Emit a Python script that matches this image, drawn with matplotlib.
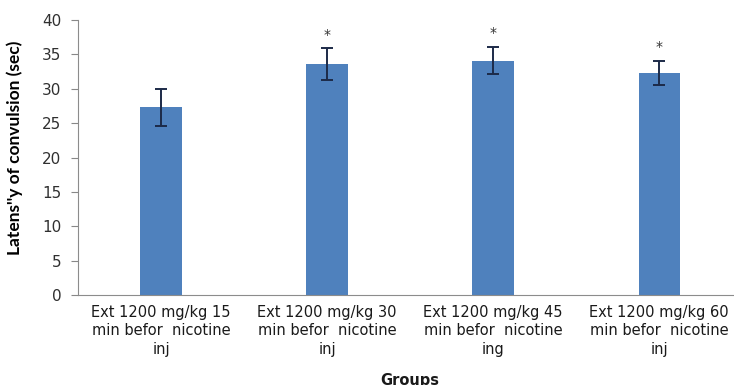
import matplotlib.pyplot as plt
import numpy as np

# latency of convulsion per group (mean +/- error)
groups = ["Ext 1200 mg/kg 15\nmin befor  nicotine\ninj",
          "Ext 1200 mg/kg 30\nmin befor  nicotine\ninj",
          "Ext 1200 mg/kg 45\nmin befor  nicotine\ning",
          "Ext 1200 mg/kg 60\nmin befor  nicotine\ninj"]
latency = [27.3, 33.6, 34.1, 32.3]
err = [2.7, 2.3, 2.0, 1.8]
signif = ["", "*", "*", "*"]
yticks = [0, 5, 10, 15, 20, 25, 30, 35, 40]

plt.rcParams['font.family'] = ['DejaVu Sans']

fig = plt.figure(figsize=(7.34, 3.85), dpi=100)
ax = fig.add_axes([0.1063, 0.2338, 0.905, 0.714])

x = np.arange(len(groups))
ax.bar(x, latency, width=0.25, color='#4F81BD', zorder=2)
ax.errorbar(x, latency, yerr=err, fmt='none', ecolor='#1C2A48',
            elinewidth=1.4, capsize=4, capthick=1.4, zorder=3)
for xi, v, e, s in zip(x, latency, err, signif):
    ax.text(xi, v + e + 2.0, s, ha='center', va='center', fontsize=10, color='#333333')

ax.set_xlim(-0.5, len(groups) - 0.5)
ax.set_ylim(0, 40)
ax.set_yticks(yticks)
ax.set_xticks(x)
ax.set_xticklabels(groups, fontsize=10.5, linespacing=1.3, color='#1a1a1a')
ax.tick_params(axis='x', length=0, pad=7)
ax.tick_params(axis='y', length=5, color='#888888', labelsize=11, pad=7,
               labelcolor='#303030')

for side in ['top', 'right']:
    ax.spines[side].set_visible(False)
for side in ['left', 'bottom']:
    ax.spines[side].set_color('#8C8C8C')

ax.set_ylabel("Latens''y of convulsion (sec)", fontsize=12.5, fontweight='bold',
              family='Lato')
ax.yaxis.set_label_coords(-0.083, 0.535)
ax.set_xlabel("Groups", fontsize=10.5, fontweight='bold', color='#1a1a1a')
ax.xaxis.set_label_coords(0.5, -0.285)

fig.savefig('out.png', dpi=100)
